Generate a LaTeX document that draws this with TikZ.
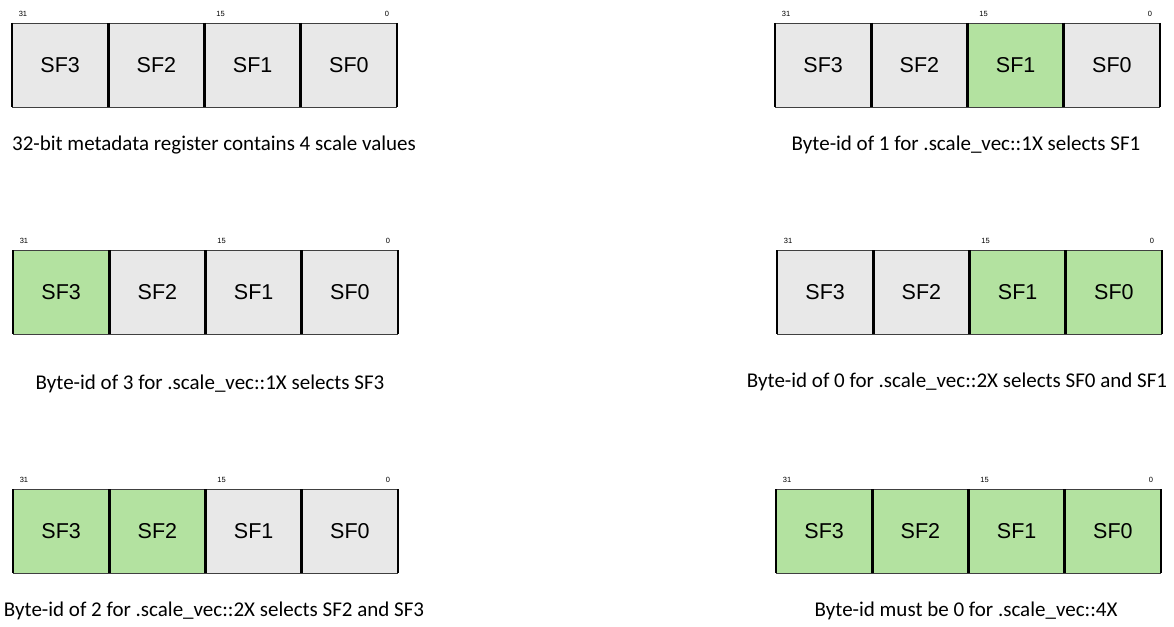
\documentclass[tikz,border=0pt]{standalone}
\usepackage{fontspec}
\setmainfont{Carlito}
\newfontfamily\cellfont{Liberation Sans}
\usetikzlibrary{positioning}
\definecolor{sfgray}{HTML}{E8E8E8}
\definecolor{sfgreen}{HTML}{B3E2A0}
\tikzset{
  sfcell/.style   = {minimum width=96.25pt,minimum height=84pt,inner sep=0pt,
                     outer sep=0pt,font=\cellfont\fontsize{21.5}{21.5}\selectfont},
  bitlabel/.style = {font=\cellfont\fontsize{7.5}{7.5}\selectfont,inner sep=0pt},
  caption/.style  = {font=\fontsize{21}{21}\selectfont,inner sep=0pt},
  rimline/.style  = {black!75,line width=0.9pt},
  divline/.style  = {black,line width=2.6pt}
}
% #1 name, #2 x, #3 y of the top left corner, #4..#7 fills of SF3..SF0
\newcommand{\sfreg}[7]{%
  \node[sfcell,fill=#4,anchor=north west] (#1-3) at (#2,#3) {SF3};
  \node[sfcell,fill=#5,right=0pt of #1-3] (#1-2) {SF2};
  \node[sfcell,fill=#6,right=0pt of #1-2] (#1-1) {SF1};
  \node[sfcell,fill=#7,right=0pt of #1-1] (#1-0) {SF0};
  \draw[rimline] (#1-3.north west) -- (#1-0.north east);
  \draw[rimline] (#1-3.south west) -- (#1-0.south east);
  \foreach \c in {3,2,1,0}
    \draw[divline] (#1-\c.north west) -- (#1-\c.south west);
  \draw[divline] (#1-0.north east) -- (#1-0.south east);
  \node[bitlabel,above=6pt of #1-3.north west,xshift=11pt] (#1-b31) {31};
  \node[bitlabel,above=6pt of #1-1.north west,xshift=16pt] (#1-b15) {15};
  \node[bitlabel,above=6pt of #1-0.north east,xshift=-10pt] (#1-b0) {0};
}

\begin{document}
\begin{tikzpicture}[x=1pt,y=1pt]
  \useasboundingbox (0,0) rectangle (1174,-626);
  \sfreg{regA}{12}{-23}{sfgray}{sfgray}{sfgray}{sfgray}
  \sfreg{regB}{775}{-23}{sfgray}{sfgray}{sfgreen}{sfgray}
  \sfreg{regC}{13}{-250}{sfgreen}{sfgray}{sfgray}{sfgray}
  \sfreg{regD}{777}{-250}{sfgray}{sfgray}{sfgreen}{sfgreen}
  \sfreg{regE}{13}{-489}{sfgreen}{sfgreen}{sfgray}{sfgray}
  \sfreg{regF}{776}{-489}{sfgreen}{sfgreen}{sfgreen}{sfgreen}
  \node[caption] (capA) at (214,-145) {32-bit metadata register contains 4 scale values};
  \node[caption] (capB) at (966,-145) {Byte-id of 1 for .scale\_vec::1X selects SF1};
  \node[caption] (capC) at (210,-384) {Byte-id of 3 for .scale\_vec::1X selects SF3};
  \node[caption] (capD) at (957,-382) {Byte-id of 0 for .scale\_vec::2X selects SF0 and SF1};
  \node[caption] (capE) at (214,-611) {Byte-id of 2 for .scale\_vec::2X selects SF2 and SF3};
  \node[caption] (capF) at (966,-611) {Byte-id must be 0 for .scale\_vec::4X};
\end{tikzpicture}
\end{document}
